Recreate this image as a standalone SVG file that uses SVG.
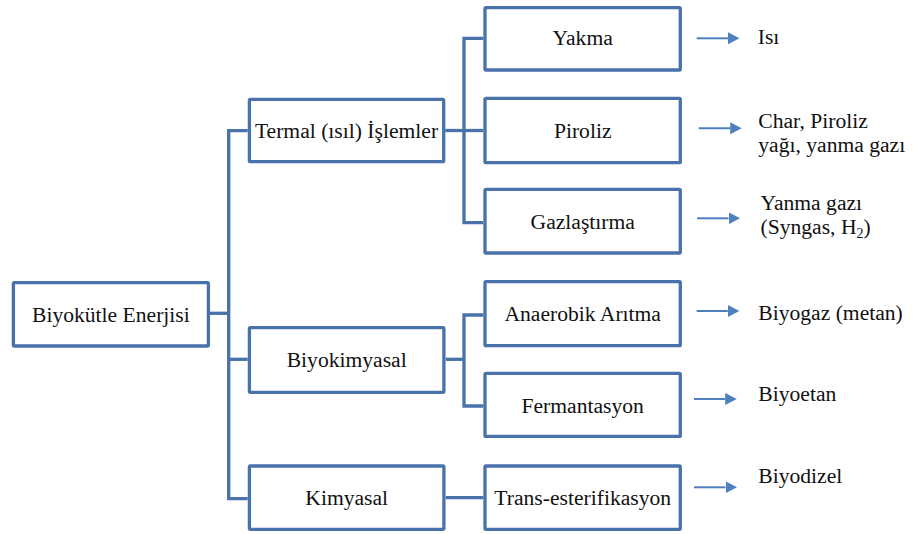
<svg xmlns="http://www.w3.org/2000/svg" width="914" height="534" viewBox="0 0 914 534">
<style>
  .box { fill: #ffffff; stroke: #4A72AA; stroke-width: 3.3; }
  .conn { fill: none; stroke: #4A72AA; stroke-width: 3.3; stroke-linejoin: miter; }
  .arr { fill: none; stroke: #4F7FBF; stroke-width: 2; }
  .c { text-anchor: middle; }
</style>
<defs>
  <marker id="head" markerUnits="userSpaceOnUse" markerWidth="12" markerHeight="13" refX="0" refY="6" orient="auto">
    <path d="M0,0 L11.5,6 L0,12 z" fill="#4F7FBF"/>
  </marker>
</defs>
<rect width="914" height="534" fill="#ffffff"/>

<g id="connectors">
  <path class="conn" d="M210,313.3 H228.7"/>
  <path class="conn" d="M247.7,130.7 H228.7 V498.7 H247.7"/>
  <path class="conn" d="M228.7,359.3 H247.7"/>
  <path class="conn" d="M445.3,130.5 H464"/>
  <path class="conn" d="M483.3,38.3 H464 V222.7 H483.3"/>
  <path class="conn" d="M464,130.5 H483.3"/>
  <path class="conn" d="M445.7,359.3 H464"/>
  <path class="conn" d="M483.3,315 H464 V406 H483.3"/>
  <path class="conn" d="M445.7,497.7 H483.3"/>
  <line class="arr" x1="696.7" y1="38.3" x2="728" y2="38.3" marker-end="url(#head)"/>
  <line class="arr" x1="698.7" y1="128.3" x2="730.2" y2="128.3" marker-end="url(#head)"/>
  <line class="arr" x1="697" y1="218.3" x2="728.5" y2="218.3" marker-end="url(#head)"/>
  <line class="arr" x1="696.7" y1="311" x2="727.8" y2="311" marker-end="url(#head)"/>
  <line class="arr" x1="694" y1="399" x2="725.2" y2="399" marker-end="url(#head)"/>
  <line class="arr" x1="694" y1="487.3" x2="725.5" y2="487.3" marker-end="url(#head)"/>
</g>

<g id="biyokutle">
  <rect class="box" x="13.4" y="282.7" width="195" height="63.3" rx="1"/>
  <text class="c" x="110.9" y="321.7" font-family="Liberation Serif, serif" font-size="21.6" fill="#111">Biyokütle Enerjisi</text>
</g>
<g id="termal">
  <rect class="box" x="249.4" y="99.4" width="194.3" height="62.3" rx="1"/>
  <text class="c" x="346.5" y="137.7" font-family="Liberation Serif, serif" font-size="21.6" fill="#111">Termal (ısıl) İşlemler</text>
</g>
<g id="biyokimyasal">
  <rect class="box" x="249.4" y="327.7" width="194.5" height="64.6" rx="1"/>
  <text class="c" x="346.7" y="367.3" font-family="Liberation Serif, serif" font-size="21.6" fill="#111">Biyokimyasal</text>
</g>
<g id="kimyasal">
  <rect class="box" x="249.4" y="466" width="194.5" height="63.3" rx="1"/>
  <text class="c" x="346.7" y="505" font-family="Liberation Serif, serif" font-size="21.6" fill="#111">Kimyasal</text>
</g>
<g id="yakma">
  <rect class="box" x="485" y="7.7" width="195.3" height="62.3" rx="1"/>
  <text class="c" x="582.7" y="45" font-family="Liberation Serif, serif" font-size="21.6" fill="#111">Yakma</text>
</g>
<g id="piroliz">
  <rect class="box" x="485" y="98.4" width="195.3" height="64.3" rx="1"/>
  <text class="c" x="582.7" y="137.7" font-family="Liberation Serif, serif" font-size="21.6" fill="#111">Piroliz</text>
</g>
<g id="gazlastirma">
  <rect class="box" x="485" y="189.4" width="195.3" height="63.6" rx="1"/>
  <text class="c" x="582.7" y="229" font-family="Liberation Serif, serif" font-size="21.6" fill="#111">Gazlaştırma</text>
</g>
<g id="anaerobik">
  <rect class="box" x="485" y="281.7" width="195.3" height="64" rx="1"/>
  <text class="c" x="582.7" y="321" font-family="Liberation Serif, serif" font-size="21.6" fill="#111">Anaerobik Arıtma</text>
</g>
<g id="fermantasyon">
  <rect class="box" x="485" y="373.4" width="195.3" height="63" rx="1"/>
  <text class="c" x="582.7" y="413.3" font-family="Liberation Serif, serif" font-size="21.6" fill="#111">Fermantasyon</text>
</g>
<g id="trans">
  <rect class="box" x="485" y="466" width="195.3" height="63.3" rx="1"/>
  <text class="c" x="582.7" y="505" font-family="Liberation Serif, serif" font-size="21.6" fill="#111">Trans-esterifikasyon</text>
</g>

<g id="out-isi"><text x="757.7" y="44.3" font-family="Liberation Serif, serif" font-size="21.6" fill="#111">Isı</text></g>
<g id="out-char">
  <text x="758.3" y="128.3" font-family="Liberation Serif, serif" font-size="21.6" fill="#111">Char, Piroliz</text>
  <text x="758.3" y="152" font-family="Liberation Serif, serif" font-size="21.6" fill="#111">yağı, yanma gazı</text>
</g>
<g id="out-yanma">
  <text x="760.5" y="210" font-family="Liberation Serif, serif" font-size="21.6" fill="#111">Yanma gazı</text>
  <text x="760.5" y="234" font-family="Liberation Serif, serif" font-size="21.6" fill="#111">(Syngas, H<tspan font-size="14" dy="4">2</tspan><tspan dy="-4">)</tspan></text>
</g>
<g id="out-biyogaz"><text x="758.3" y="320" font-family="Liberation Serif, serif" font-size="21.6" fill="#111">Biyogaz (metan)</text></g>
<g id="out-biyoetan"><text x="758.3" y="401" font-family="Liberation Serif, serif" font-size="21.6" fill="#111">Biyoetan</text></g>
<g id="out-biyodizel"><text x="758.3" y="483.3" font-family="Liberation Serif, serif" font-size="21.6" fill="#111">Biyodizel</text></g>
</svg>
